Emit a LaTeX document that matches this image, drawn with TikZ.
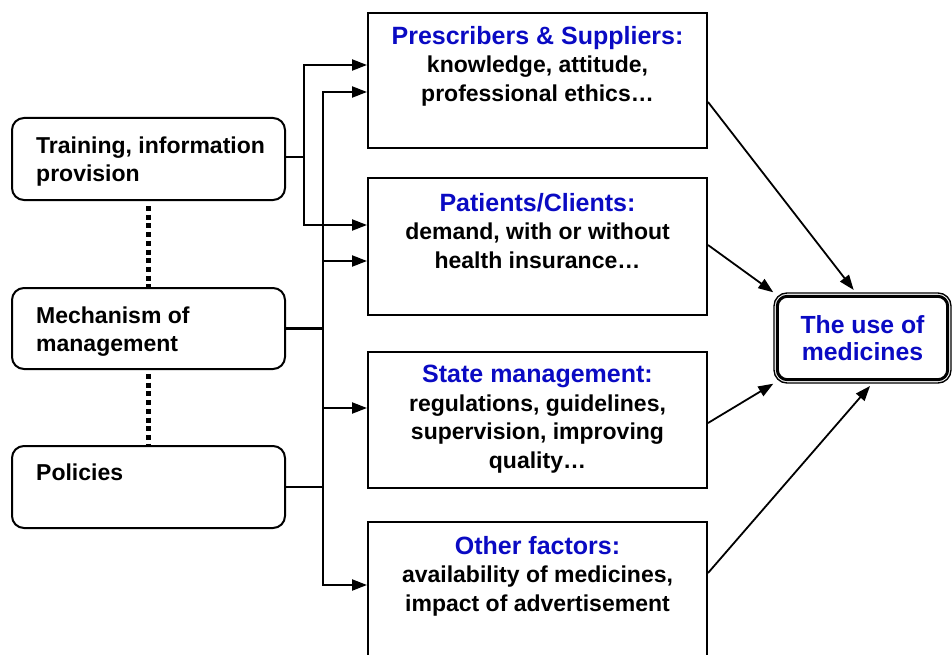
\documentclass[tikz,border=0pt]{standalone}
\usepackage{fontspec}
\setmainfont{Liberation Sans}
\usetikzlibrary{arrows.meta,calc}
\definecolor{hblue}{RGB}{10,10,195}
\newcommand{\hd}[1]{{\color{hblue}\fontsize{25}{28.5}\selectfont #1}}
\begin{document}
\begin{tikzpicture}[x=1pt,y=-1pt,
  every node/.style={font=\bfseries\fontsize{23}{28}\selectfont},
  lbox/.style={draw, line width=2pt, rounded corners=12pt, minimum width=273pt, inner sep=0pt},
  rbox/.style={draw, line width=2pt, minimum width=339pt, inner sep=0pt},
  ltext/.style={anchor=north west, align=left, inner sep=0pt},
  rtext/.style={anchor=north, align=center, inner sep=0pt, font=\bfseries\fontsize{23}{28.5}\selectfont},
  conn/.style={line width=2.2pt},
  arr/.style={conn, -{Triangle[length=15pt,width=11pt]}},
  dotline/.style={line width=4.5pt, dash pattern=on 5pt off 3.7pt},
]
\useasboundingbox (0,0) rectangle (952,655);

% left boxes
\node[lbox, minimum height=82pt] (tr) at (148.5,159) {};
\node[lbox, minimum height=81pt] (mech) at (148.5,328.5) {};
\node[lbox, minimum height=82pt] (pol) at (148.5,487) {};
\node[ltext] (trt) at ([xshift=25pt,yshift=-20pt]tr.north west) {Training, information\\provision};
\node[ltext] (mecht) at ([xshift=25pt,yshift=-20pt]mech.north west) {Mechanism of\\management};
\node[ltext] (polt) at ([xshift=25pt,yshift=-19pt]pol.north west) {Policies};

% dotted links
\draw[dotline, shorten <=5pt] (tr.south) -- (mech.north);
\draw[dotline, shorten <=4pt] (mech.south) -- (pol.north);

% right boxes
\node[rbox, minimum height=135pt] (b1) at (537.5,80.5) {};
\node[rbox, minimum height=137pt] (b2) at (537.5,246.5) {};
\node[rbox, minimum height=136pt] (b3) at (537.5,420) {};
\node[rbox, minimum height=140pt] (b4) at (537.5,592) {};
\node[rtext] (b1t) at ([yshift=-14pt]b1.north) {\hd{Prescribers \& Suppliers:}\\knowledge, attitude,\\professional ethics…};
\node[rtext] (b2t) at ([yshift=-16pt]b2.north) {\hd{Patients/Clients:}\\demand, with or without\\health insurance…};
\node[rtext] (b3t) at ([yshift=-14pt]b3.north) {\hd{State management:}\\regulations, guidelines,\\supervision, improving\\quality…};
\node[rtext] (b4t) at ([yshift=-15pt]b4.north) {\hd{Other factors:}\\availability of medicines,\\impact of advertisement};

% target
\node[draw, line width=1.4pt, rounded corners=13pt, minimum width=177pt, minimum height=90pt, inner sep=0pt,
      align=center, text=hblue, font=\bfseries\fontsize{24.8}{27.5}\selectfont] (tgt) at (862.5,338) {The use of\\medicines};
\draw[line width=3pt, rounded corners=10pt] ([shift={(4pt,-4pt)}]tgt.north west) rectangle ([shift={(-4pt,4pt)}]tgt.south east);

% left connectors
\coordinate (j1) at (304,157);
\coordinate (j2) at (323,328.5);
\draw[conn] (tr.east |- j1) -- (j1);
\draw[arr] (j1) |- ([yshift=15.5pt]b1.west);
\draw[arr] (j1) |- ([yshift=21.5pt]b2.west);
\draw[conn] (mech.east) -- (j2);
\draw[conn] (pol.east) -- (pol.east -| j2);
\draw[arr] (j2) |- ([yshift=-11.5pt]b1.west);
\draw[arr] (j2) |- ([yshift=-14.5pt]b2.west);
\draw[arr] (j2) |- ([yshift=12pt]b3.west);
\draw[arr] (j2) |- ([yshift=7pt]b4.west);

% right connectors
\draw[arr, line width=1.8pt, shorten >=3pt] ([yshift=-21.5pt]b1.east) -- ([xshift=-7pt]tgt.north);
\draw[arr, line width=1.8pt] ([yshift=1.5pt]b2.east) -- (tgt.north west);
\draw[arr, line width=1.8pt] ([yshift=-3pt]b3.east) -- (tgt.south west);
\draw[arr, line width=1.8pt, shorten >=3pt] ([yshift=19pt]b4.east) -- ([xshift=9.5pt]tgt.south);
\end{tikzpicture}
\end{document}
